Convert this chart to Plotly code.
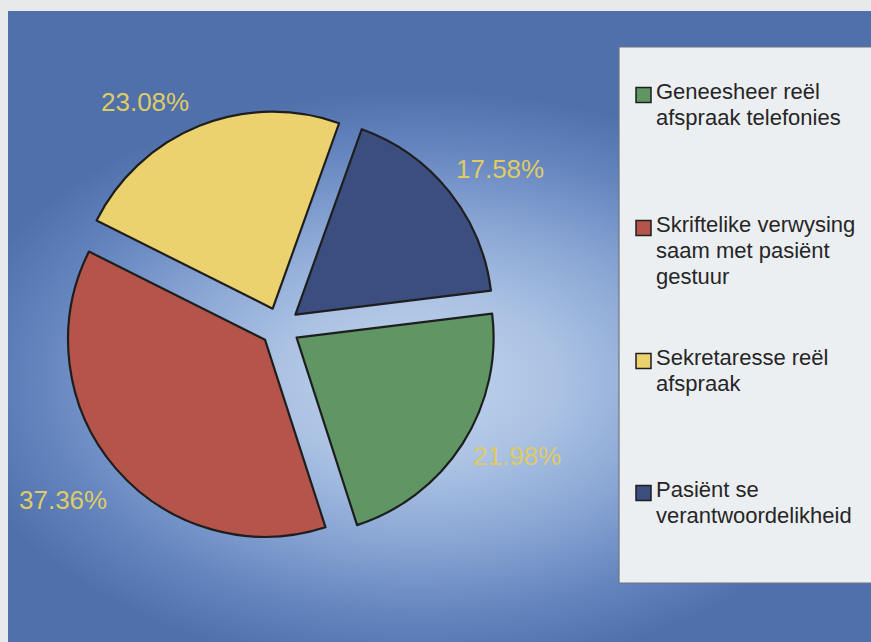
import base64
import plotly.graph_objects as go

# Survey responses: how the referral appointment was arranged
categories = [
    "Geneesheer reël\nafspraak telefonies",
    "Skriftelike verwysing\nsaam met pasiënt\ngestuur",
    "Sekretaresse reël\nafspraak",
    "Pasiënt se\nverantwoordelikheid",
]
counts = [20, 34, 21, 16]
slice_colors = ["#5f9664", "#b5544a", "#ebd26e", "#3c4e80"]

W, H = 871, 642
total = sum(counts)


def px_x(x):
    return x / W


def px_y(y):
    return 1 - y / H


# radial blue backdrop, lighter in the middle of the panel
bg_w, bg_h = W - 8, H - 11
cx, cy0, rad = 410, 370, 470
svg = f"""<svg xmlns='http://www.w3.org/2000/svg' width='{bg_w}' height='{bg_h}' viewBox='0 0 {bg_w} {bg_h}' preserveAspectRatio='none'>
<defs><radialGradient id='g' gradientUnits='userSpaceOnUse' cx='{cx}' cy='{cy0}' r='{rad}'
 gradientTransform='translate({cx} {cy0}) scale(1 0.62) translate(-{cx} -{cy0})'>
<stop offset='0' stop-color='#c2d5ee'/>
<stop offset='0.3' stop-color='#abc2e3'/>
<stop offset='0.55' stop-color='#89a6d4'/>
<stop offset='0.8' stop-color='#6585bf'/>
<stop offset='1' stop-color='#5070ac'/>
</radialGradient></defs>
<rect x='0' y='0' width='{bg_w}' height='{bg_h}' fill='url(#g)'/>
</svg>"""
bg_src = "data:image/svg+xml;base64," + base64.b64encode(svg.encode("utf-8")).decode()

fig = go.Figure()
fig.add_trace(go.Pie(
    labels=[c.replace("\n", " ") for c in categories],
    values=counts,
    sort=False,
    direction="clockwise",
    rotation=83,
    pull=[0.1] * len(counts),
    marker=dict(colors=slice_colors, line=dict(color="#1e1e1e", width=2.2)),
    textinfo="none",
    hoverinfo="label+percent",
    showlegend=False,
    domain=dict(x=[px_x(63.3), px_x(496.7)], y=[px_y(543.7), px_y(110.3)]),
))

# percentage labels around the pie
label_pos = [(517, 456), (63, 500), (145, 102), (500, 169)]
annotations = []
for v, (lx, ly) in zip(counts, label_pos):
    annotations.append(dict(
        x=px_x(lx), y=px_y(ly), xref="paper", yref="paper",
        text=f"{v / total * 100:.2f}%", showarrow=False,
        xanchor="center", yanchor="middle",
        font=dict(family="Arial, Liberation Sans, sans-serif", size=26, color="#dfcb66"),
    ))

# legend panel
shapes = [dict(
    type="rect", xref="paper", yref="paper",
    x0=px_x(619), x1=px_x(880), y0=px_y(583), y1=px_y(47),
    fillcolor="#eceff2", line=dict(color="#6f747c", width=1.2), layer="below",
)]
first_baselines = [99, 232, 365, 497]
line_step = 26
for name, col, base in zip(categories, slice_colors, first_baselines):
    cy = base - 4
    shapes.append(dict(
        type="rect", xref="paper", yref="paper",
        x0=px_x(636), x1=px_x(651), y0=px_y(cy + 7.5), y1=px_y(cy - 7.5),
        fillcolor=col, line=dict(color="#1e1e1e", width=1.5),
    ))
    for i, line in enumerate(name.split("\n")):
        annotations.append(dict(
            x=px_x(654), y=px_y(base + i * line_step - 7.6), xref="paper", yref="paper",
            text=line, showarrow=False, xanchor="left", yanchor="middle",
            font=dict(family="Arial, Liberation Sans, sans-serif", size=22, color="#262626"),
        ))

fig.update_layout(
    width=W, height=H,
    margin=dict(l=0, r=0, t=0, b=0),
    paper_bgcolor="#e7e9eb",
    plot_bgcolor="rgba(0,0,0,0)",
    images=[dict(
        source=bg_src, xref="paper", yref="paper",
        x=px_x(8), y=px_y(11), sizex=bg_w / W, sizey=bg_h / H,
        xanchor="left", yanchor="top", sizing="stretch", layer="below",
    )],
    shapes=shapes,
    annotations=annotations,
)

fig.write_html("out.html")
